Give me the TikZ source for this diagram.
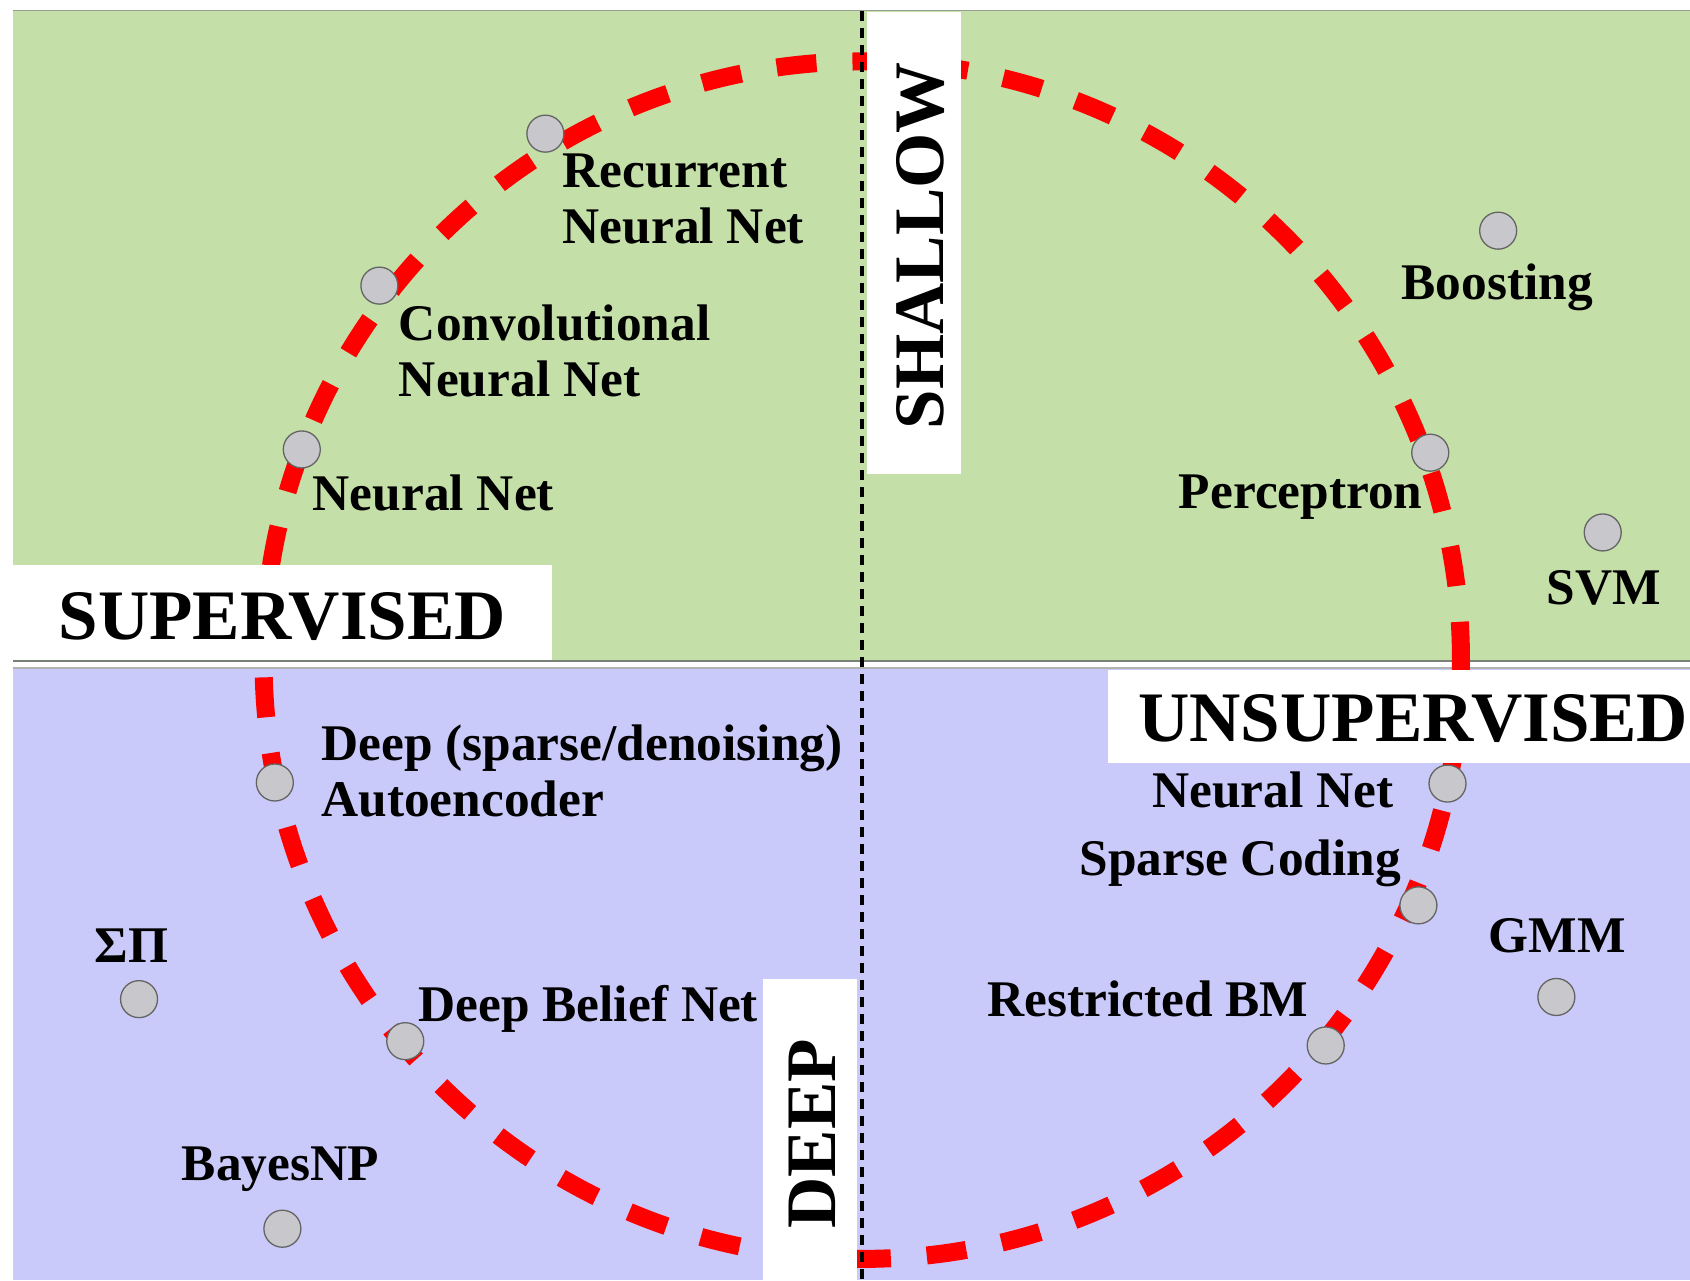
\documentclass[tikz,border=0pt]{standalone}
\usepackage{fontspec}
\setmainfont{Liberation Serif}
\definecolor{supgreen}{RGB}{196,223,168}
\definecolor{unsuppurple}{RGB}{202,202,250}
\definecolor{dotfill}{RGB}{200,200,204}
\definecolor{dotline}{RGB}{100,100,100}
\definecolor{rulegray}{RGB}{150,160,150}
\begin{document}
\begin{tikzpicture}[x=1.0778pt,y=-1.0778pt,
  dot/.style={circle,minimum size=37pt,inner sep=0pt,fill=dotfill,draw=dotline,line width=1.3pt},
  lab/.style={inner sep=0pt,font=\bfseries\fontsize{51.4}{56}\selectfont,align=left},
  big/.style={inner sep=0pt,font=\bfseries\fontsize{71}{75}\selectfont},
  whitebox/.style={fill=white,draw=none},
  ring/.style={draw=red,line width=18pt,dash pattern=on 40pt off 36pt},
  divider/.style={draw=black,line width=4pt,dash pattern=on 10pt off 7pt}]

% page and the two regions
\fill[white] (0,0) rectangle (1568,1188);
\useasboundingbox (0,0) rectangle (1568,1188);
\fill[supgreen] (12,9.5) rectangle (1568,614);
\fill[unsuppurple] (12,619) rectangle (1568,1188);
\draw[rulegray,line width=1.2pt] (12,9.5) -- (1568,9.5);
\draw[rulegray!80!black,line width=2pt] (12,613.5) -- (1568,613.5);
\draw[gray!60,line width=2pt] (12,620) -- (1568,620);

% the red dashed ring
\coordinate (ctr) at (800,612.5);
\draw[ring] (ctr) circle[radius=555.5];

% white label panels
\fill[whitebox] (804,11) rectangle (892,440);
\fill[whitebox] (12,524) rectangle (512,612.5);
\fill[whitebox] (1028,622) rectangle (1568,708);
\fill[whitebox] (708,908) rectangle (795,1188);

% vertical dotted separator
\coordinate (sepTop) at (800,10);
\coordinate (sepBot) at (800,1188);
\draw[divider] (sepTop) -- (sepBot);

% quadrant titles
\node[big,rotate=90,anchor=base] (shallow) at (875,228) {SHALLOW};
\node[big,anchor=base] (supervised) at (262,593) {SUPERVISED};
\node[big,anchor=base west] (unsupervised) at (1056,688) {UNSUPERVISED};
\node[big,rotate=90,anchor=base] (deep) at (775,1052) {DEEP};

% methods
\node[dot] (rnn) at (506,124) {};
\node[dot] (cnn) at (352,265) {};
\node[dot] (nnS) at (280,417) {};
\node[dot] (boost) at (1390,214) {};
\node[dot] (perc) at (1327,420) {};
\node[dot] (svm) at (1487,494) {};
\node[dot] (ae) at (255,726) {};
\node[dot] (sp) at (129,927) {};
\node[dot] (dbn) at (376,966) {};
\node[dot] (bnp) at (262,1140) {};
\node[dot] (nnU) at (1343,727) {};
\node[dot] (sc) at (1316,840) {};
\node[dot] (gmm) at (1444,925) {};
\node[dot] (rbm) at (1230,970) {};

% method labels (two-line labels are placed by their last baseline)
\node[lab,anchor=base west] (rnnL) at (522,226) {Recurrent\\Neural Net};
\node[lab,anchor=base west] (cnnL) at (370,368) {Convolutional\\Neural Net};
\node[lab,anchor=base west] (nnSL) at (290,474) {Neural Net};
\node[lab,anchor=base] (boostL) at (1389,278) {Boosting};
\node[lab,anchor=base east] (percL) at (1320,472) {Perceptron};
\node[lab,anchor=base] (svmL) at (1488,561) {SVM};
\node[lab,anchor=base west] (aeL) at (298,758) {Deep (sparse/denoising)\\Autoencoder};
\node[lab,anchor=base] (spL) at (122,893) {ΣΠ};
\node[lab,anchor=base west] (dbnL) at (388,948) {Deep Belief Net};
\node[lab,anchor=base] (bnpL) at (260,1095) {BayesNP};
\node[lab,anchor=base east] (nnUL) at (1293,749) {Neural Net};
\node[lab,anchor=base east] (scL) at (1300,812) {Sparse Coding};
\node[lab,anchor=base] (gmmL) at (1445,884) {GMM};
\node[lab,anchor=base east] (rbmL) at (1214,943) {Restricted BM};
\end{tikzpicture}
\end{document}
